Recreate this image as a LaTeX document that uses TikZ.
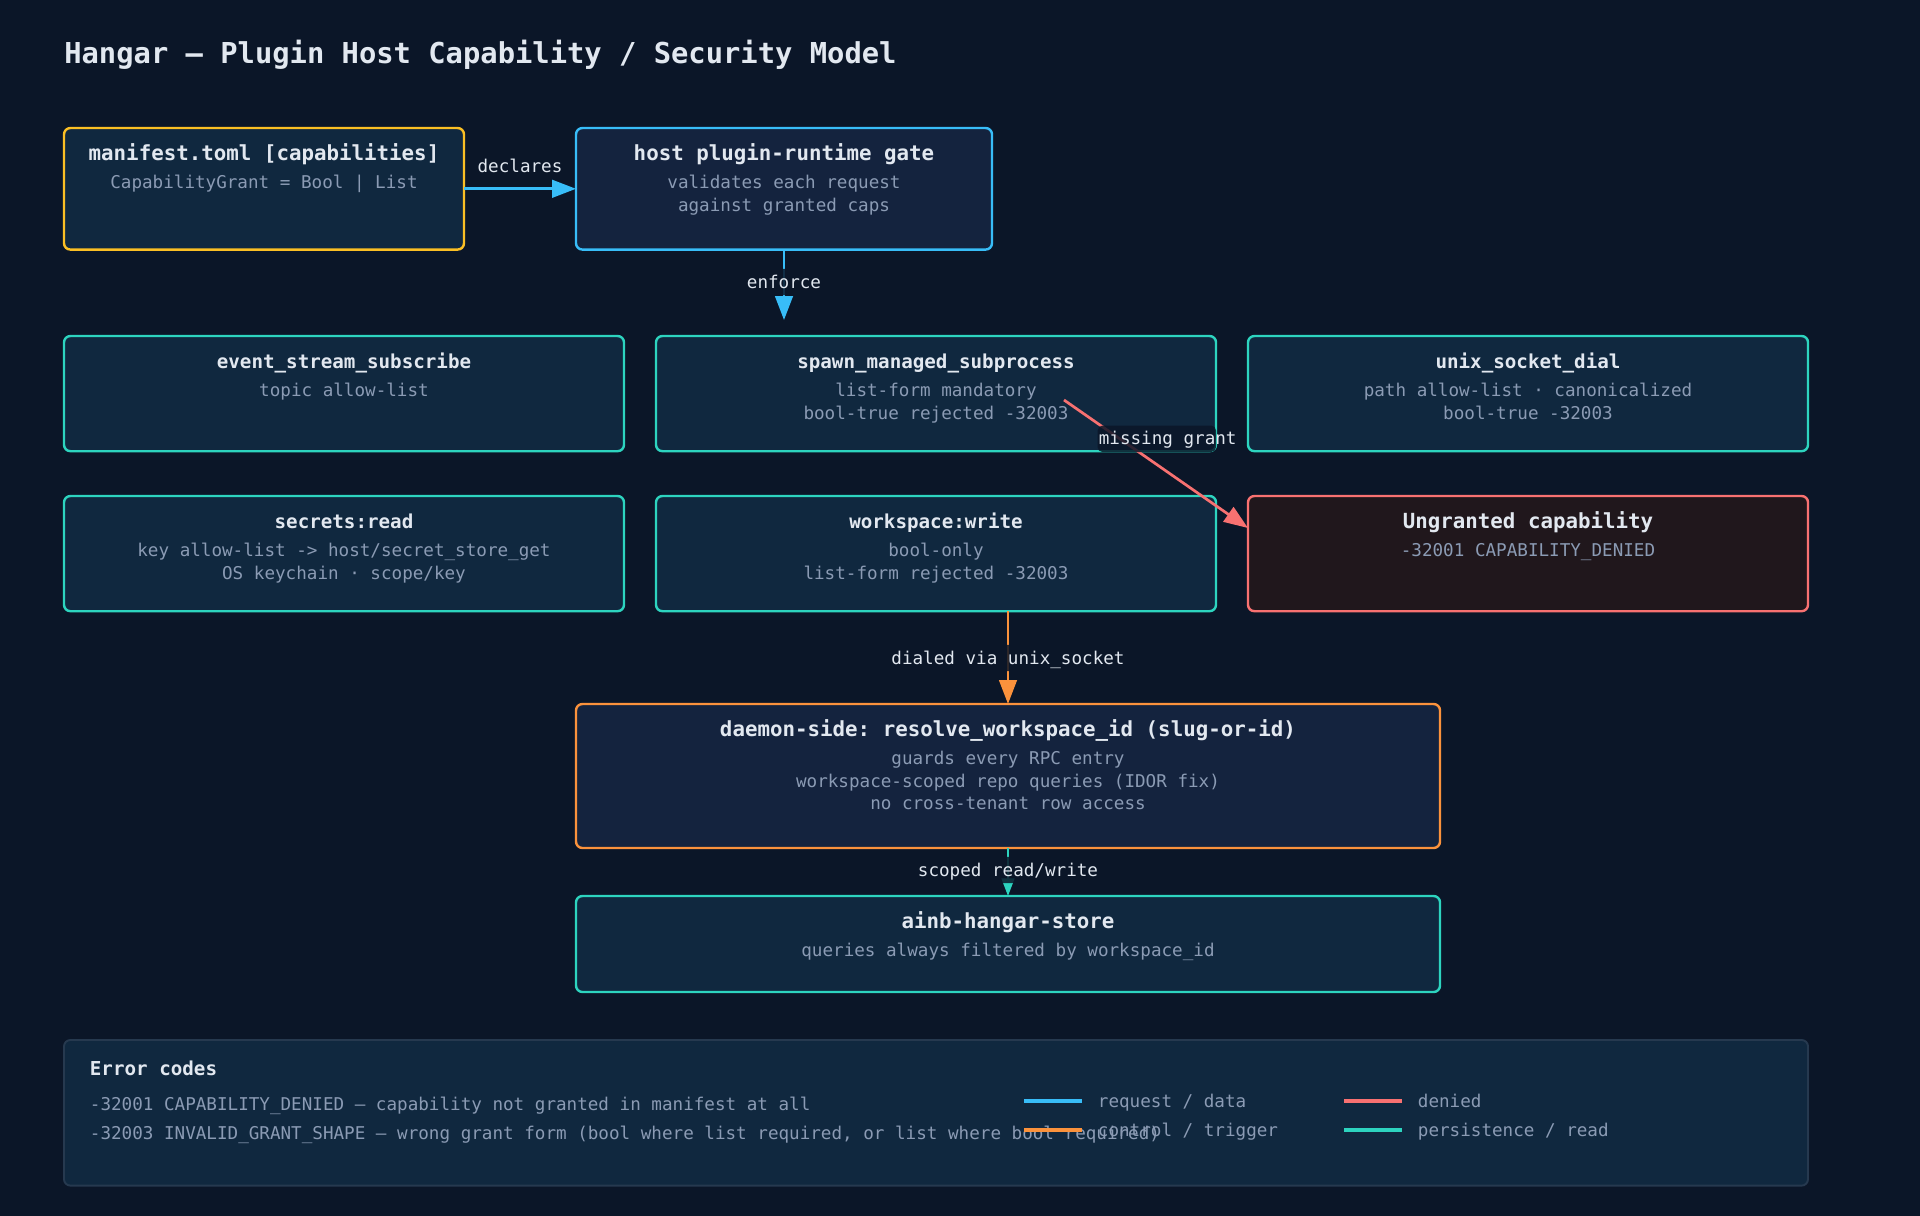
\documentclass[tikz,border=0pt]{standalone}
\usepackage{fontspec}
\setmainfont{DejaVu Sans Mono}
\frenchspacing
\usetikzlibrary{arrows.meta}
\definecolor{bgc}{HTML}{0B1628}
\definecolor{boxfill}{HTML}{10283F}
\definecolor{gatefill}{HTML}{14233E}
\definecolor{denyfill}{HTML}{20171C}
\definecolor{panelline}{HTML}{26394F}
\definecolor{cyel}{HTML}{FBBF24}
\definecolor{cblue}{HTML}{38BDF8}
\definecolor{cteal}{HTML}{2DD4BF}
\definecolor{cred}{HTML}{F87171}
\definecolor{corange}{HTML}{FB923C}
\definecolor{titlec}{HTML}{E2E8F0}
\definecolor{subc}{HTML}{8B9BB4}
\begin{document}
\begin{tikzpicture}[x=1pt,y=-1pt,
  box/.style={draw, line width=1.5pt, rounded corners=4pt, inner sep=0pt, outer sep=0pt},
  ttl/.style={anchor=base, inner sep=0pt, text=titlec, font=\fontsize{13}{15}\selectfont\bfseries\frenchspacing},
  ttls/.style={anchor=base, inner sep=0pt, text=titlec, font=\fontsize{12}{14}\selectfont\bfseries\frenchspacing},
  sub/.style={anchor=base, inner sep=0pt, text=subc, font=\fontsize{11}{13}\selectfont\frenchspacing},
  lbl/.style={anchor=base, inner sep=0pt, text=titlec, font=\fontsize{11}{13}\selectfont\frenchspacing},
  lblbg/.style={fill=bgc, fill opacity=0.85, rounded corners=3pt},
  conn/.style={line width=1.7pt, -{Triangle[length=15pt,width=11pt]}},
  leg/.style={line width=2.5pt},
  legt/.style={anchor=base west, inner sep=0pt, text=subc, font=\fontsize{11}{13}\selectfont\frenchspacing}
]
\useasboundingbox[fill=bgc] (0,0) rectangle (1200,760);

% title
\node[anchor=base west, inner sep=0pt, text=titlec, font=\fontsize{18}{22}\selectfont\bfseries] (title) at (40,40) {Hangar — Plugin Host Capability / Security Model};

% boxes
\node[box, draw=cyel, fill=boxfill, minimum width=250pt, minimum height=76pt] (manifest) at (165,118) {};
\node[box, draw=cblue, fill=gatefill, minimum width=260pt, minimum height=76pt] (gate) at (490,118) {};
\node[box, draw=cteal, fill=boxfill, minimum width=350pt, minimum height=72pt] (event) at (215,246) {};
\node[box, draw=cteal, fill=boxfill, minimum width=350pt, minimum height=72pt] (spawn) at (585,246) {};
\node[box, draw=cteal, fill=boxfill, minimum width=350pt, minimum height=72pt] (unix) at (955,246) {};
\node[box, draw=cteal, fill=boxfill, minimum width=350pt, minimum height=72pt] (secrets) at (215,346) {};
\node[box, draw=cteal, fill=boxfill, minimum width=350pt, minimum height=72pt] (wswrite) at (585,346) {};
\node[box, draw=cred, fill=denyfill, minimum width=350pt, minimum height=72pt] (deny) at (955,346) {};
\node[box, draw=corange, fill=gatefill, minimum width=540pt, minimum height=90pt] (daemon) at (630,485) {};
\node[box, draw=cteal, fill=boxfill, minimum width=540pt, minimum height=60pt] (store) at (630,590) {};
\node[box, draw=panelline, line width=1.2pt, fill=boxfill, minimum width=1090pt, minimum height=91pt] (panel) at (585,695.5) {};

% box texts
\node[ttl] (manifestT) at (165,100) {manifest.toml [capabilities]};
\node[sub] (manifestS) at (165,118) {CapabilityGrant = Bool | List};
\node[ttl] (gateT) at (490,100) {host plugin-runtime gate};
\node[sub] (gateS1) at (490,118) {validates each request};
\node[sub] (gateS2) at (490,132) {against granted caps};

\node[ttls] (eventT) at (215,230) {event\_stream\_subscribe};
\node[sub] (eventS) at (215,248) {topic allow-list};
\node[ttls] (spawnT) at (585,230) {spawn\_managed\_subprocess};
\node[sub] (spawnS1) at (585,248) {list-form mandatory};
\node[sub] (spawnS2) at (585,262) {bool-true rejected -32003};
\node[ttls] (unixT) at (955,230) {unix\_socket\_dial};
\node[sub] (unixS1) at (955,248) {path allow-list · canonicalized};
\node[sub] (unixS2) at (955,262) {bool-true -32003};

\node[ttls] (secretsT) at (215,330) {secrets:read};
\node[sub] (secretsS1) at (215,348) {key allow-list -> host/secret\_store\_get};
\node[sub] (secretsS2) at (215,362) {OS keychain · scope/key};
\node[ttls] (wswriteT) at (585,330) {workspace:write};
\node[sub] (wswriteS1) at (585,348) {bool-only};
\node[sub] (wswriteS2) at (585,362) {list-form rejected -32003};
\node[ttl] (denyT) at (955,330) {Ungranted capability};
\node[sub] (denyS) at (955,348) {-32001 CAPABILITY\_DENIED};

\node[ttl] (daemonT) at (630,460) {daemon-side: resolve\_workspace\_id (slug-or-id)};
\node[sub] (daemonS1) at (630,478) {guards every RPC entry};
\node[sub] (daemonS2) at (630,492) {workspace-scoped repo queries (IDOR fix)};
\node[sub] (daemonS3) at (630,506) {no cross-tenant row access};

\node[ttl] (storeT) at (630,580) {ainb-hangar-store};
\node[sub] (storeS) at (630,598) {queries always filtered by workspace\_id};

% error panel
\node[anchor=base west, inner sep=0pt, text=titlec, font=\fontsize{12}{14}\selectfont\bfseries] (errT) at (56,672) {Error codes};
\node[legt] (err1) at (56,694) {-32001 CAPABILITY\_DENIED — capability not granted in manifest at all};
\node[legt] (err2) at (56,712) {-32003 INVALID\_GRANT\_SHAPE — wrong grant form (bool where list required, or list where bool required)};

% legend
\draw[leg, cblue] (640,688) -- (676,688);
\node[legt] (legA) at (686,692) {request / data};
\draw[leg, corange] (640,706) -- (676,706);
\node[legt] (legB) at (686,710) {control / trigger};
\draw[leg, cred] (840,688) -- (876,688);
\node[legt] (legC) at (886,692) {denied};
\draw[leg, cteal] (840,706) -- (876,706);
\node[legt] (legD) at (886,710) {persistence / read};

% connectors
\coordinate (enfEnd) at (490,200);
\coordinate (missA) at (665,250);
\coordinate (missB) at (780,330);
\coordinate (dialA) at (daemon.north |- wswrite.south);

\draw[conn, cblue] (manifest.east) -- (gate.west);
\draw[conn, cblue] (gate.south) -- (enfEnd);
\draw[conn, cred] (missA) -- (missB);
\draw[conn, corange] (dialA) -- (daemon.north);
\draw[line width=1.3pt, cteal, -{Triangle[length=11pt,width=8pt]}] (daemon.south) -- (store.north);

% connector labels
\node[lbl] (declL) at (325,108) {declares};
\fill[lblbg] (466,168) rectangle (506,184.5);
\node[lbl] (enfL) at (490,180) {enforce};
\fill[lblbg] (686,266) rectangle (760,282.5);
\node[lbl] (missL) at (729.8,278) {missing grant};
\fill[lblbg] (556,403) rectangle (681,419.5);
\node[lbl] (dialL) at (630,415) {dialed via unix\_socket};
\fill[lblbg] (573,535.5) rectangle (670,552);
\node[lbl] (scopL) at (630,547.5) {scoped read/write};
\end{tikzpicture}
\end{document}
